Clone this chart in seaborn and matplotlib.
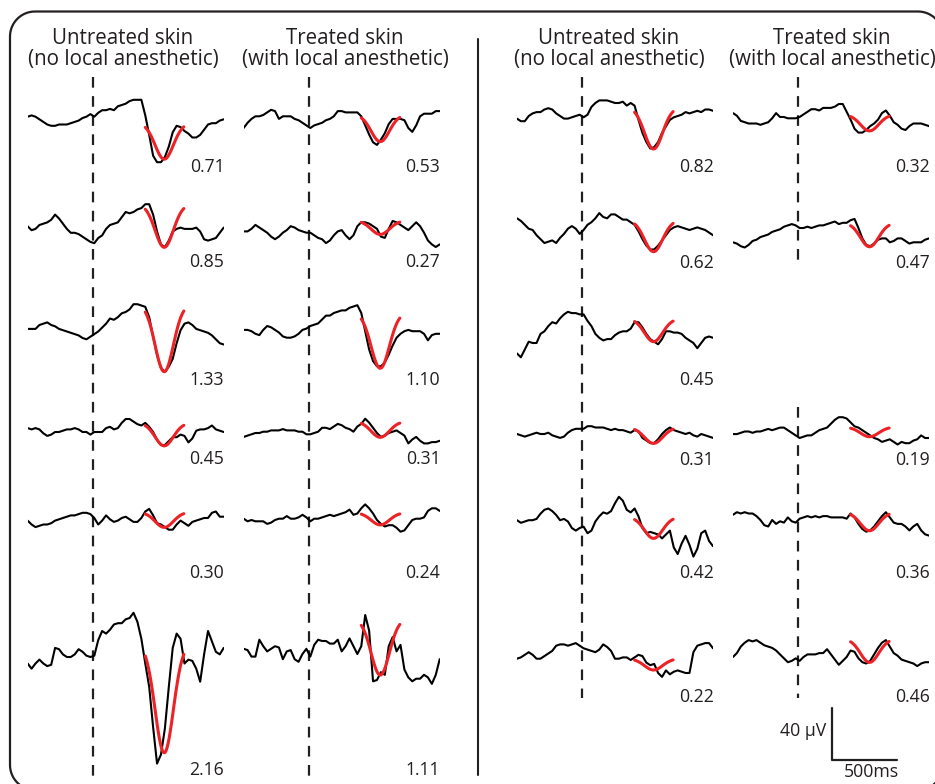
import numpy as np
import matplotlib
matplotlib.use("Agg")
import matplotlib.pyplot as plt
from matplotlib.patches import PathPatch
from matplotlib.path import Path
from matplotlib.transforms import IdentityTransform
import seaborn as sns

sns.set_style("white")
plt.rcParams["font.family"] = ["Open Sans", "DejaVu Sans"]

INK = "#231f20"
FIT_RED = "#ec2227"

# Epoch time base (ms relative to stimulus onset)
t_ms = np.arange(-500, 1001, 30)

# Grand-average ERP per subject (µV), untreated vs. anesthetised skin
s1_untreated = [0, 1, 0, -2, -4, -6, -7, -7, -6, -6, -6, -5, -4, -3, -1, 0, 2, 0, 3, 5, 5, 6, 5, 8, 9,
                10, 12, 13, 13, 13, 1, -14, -30, -35, -35, -31, -23, -12, -7, -8, -11, -13, -16, -16,
                -14, -10, -6, -5, -5, -3, -2]
s1_treated = [-1, 3, 6, 8, 8, 9, 11, 13, 12, 6, 8, 8, 8, 6, 5, 3, 1, -1, 1, 2, 3, 5, 6, 8, 12, 12,
              11, 11, 11, 11, 8, 1, -6, -12, -14, -10, -5, 2, 6, 6, 6, 5, -1, -4, 1, 8, 10, 10, 10,
              12, 12]
s2_untreated = [8, 5, 6, 9, 10, 11, 13, 17, 14, 10, 6, 3, 3, 2, 0, -2, -4, -5, -1, 1, 6, 9, 10, 11,
                15, 19, 18, 19, 21, 22, 25, 25, 17, 4, -6, -8, -3, 4, 6, 7, 6, 6, 6, 7, 4, -2, -3,
                -2, -1, 3, 7]
s2_treated = [1, 1, 3, 6, 4, 2, 0, -3, -5, -3, 0, 2, 5, 4, 2, 1, 0, 0, -2, -4, -5, -8, -6, -2, 1,
              2, -2, -5, -2, 5, 8, 8, 7, 5, 3, -3, -4, 3, 9, 8, 6, 4, 2, 5, 8, 5, 0, -6, -9, -11, -9]
s3_untreated = [6, 6, 6, 9, 10, 11, 9, 8, 6, 5, 4, 3, 2, 1, -1, -2, 0, 2, 4, 7, 10, 14, 13, 15, 18,
                19, 21, 25, 25, 24, 23, 15, 0, -14, -24, -27, -23, -17, -5, 5, 10, 11, 9, 6, 5, 4,
                3, 1, -2, -5, -6]
s3_treated = [-2, -2, -3, -5, -6, -2, 1, 0, -2, -4, -7, -8, -8, -7, -5, -2, -1, 1, 2, 3, 6, 9, 9,
              11, 12, 13, 13, 15, 16, 17, 11, -3, -17, -26, -30, -30, -27, -21, -14, -8, -5, -3,
              -2, -3, -3, -3, -5, -10, -6, -5, -5]
s4_untreated = [4, 3, 4, 3, 0, -2, -1, 1, 1, 2, 3, 3, 4, 3, 1, 1, -1, 1, 1, 1, 4, 5, 3, 4, 8, 11,
                11, 9, 7, 6, 8, 5, 1, -5, -9, -9, -6, -3, -3, -1, -2, -7, -4, 2, 3, 3, 4, 6, 3, 2, 1]
s4_treated = [-2, -1, 0, 1, 1, 2, 2, 3, 3, 3, 4, 3, 3, 3, 2, 2, 0, 0, 1, 2, 5, 5, 4, 6, 8, 7, 5, 4,
              2, 6, 8, 12, 9, 5, 1, -2, -1, 1, 2, 3, 1, -1, -7, -4, -2, -5, -7, -7, -6, -6, -5]
s5_untreated = [-3, -6, -8, -7, -6, -6, -5, -3, -2, -1, 0, 1, 1, 2, 3, 3, 2, -1, -6, -3, 1, -2, -4,
                -3, -1, 0, -2, -4, -4, -1, 4, 6, 1, -5, -6, -8, -10, -10, -6, -3, -5, -7, -4, -3,
                -2, -1, -1, 3, 4, 0, 0]
s5_treated = [1, -1, 0, -1, -1, -1, -3, -2, 0, 1, 1, 3, 1, 1, 2, 4, 2, -1, 1, 1, 2, 3, 4, 3, 4, 5,
              6, 8, 4, 5, 9, 12, 9, 5, 0, -3, -5, -4, -4, -6, -9, -8, -4, 0, 1, 1, 2, 7, 9, 9, 7]
s6_untreated = [-4, -8, -4, -1, -4, -6, -5, 8, 7, 3, 1, 1, 3, 7, 5, 2, 1, 2, 14, 21, 19, 22, 26,
                27, 27, 30, 31, 35, 28, 15, -4, -22, -53, -81, -74, -54, -22, 8, 19, 15, -4, -1,
                -2, -8, -18, 3, 21, 13, 5, 3, 8]
s6_treated = [3, 2, -3, -3, 10, 5, 1, 3, 5, 4, -5, 1, 2, -5, -7, -1, 3, -3, 6, 10, 9, 9, 7, 7, 10,
              1, 5, 11, 5, -1, 5, 29, 17, -22, -21, -15, -17, 5, 12, 1, 6, -13, -19, -22, -20, -20,
              -17, -19, -24, -17, -5]
s7_untreated = [-1, -3, -3, 1, 3, 4, 4, 6, 7, 6, 3, 1, -1, -1, 0, 1, 2, 0, 2, 8, 11, 13, 13, 13, 12,
                11, 11, 12, 9, 11, 9, -2, -12, -19, -24, -23, -19, -12, -7, -2, 0, 1, 2, 4, 3, 4,
                5, 4, 6, 6, 5]
s7_treated = [4, 2, -2, -3, -4, -4, -4, -5, -4, -3, 0, 4, 1, 1, 0, 0, 0, 1, 3, 5, 7, 7, 6, 8, 8, 8,
              9, 11, 11, 5, -1, -8, -11, -11, -9, -6, -4, -1, 4, 6, 2, -3, -5, -8, -9, -6, -4, -4,
              -4, -5, -6]
s8_untreated = [9, 7, 4, 1, 0, -4, -7, -10, -9, -8, -10, -6, -3, 1, 3, 1, -3, 0, 4, 6, 9, 13, 10, 9,
                12, 12, 10, 8, 8, 6, 4, -1, -7, -12, -15, -15, -12, -8, -4, 0, 2, 3, 2, 1, 0, 1,
                2, 1, 0, -2, -4]
s8_treated = [-12, -13, -15, -16, -14, -11, -10, -8, -7, -6, -4, -3, -2, 0, 1, 2, 1, -1, -1, 0, -1,
              0, 1, 1, 2, 3, 4, 2, 3, 3, 5, 6, -1, -9, -14, -15, -13, -10, -9, -9, -12, -11, -9,
              -9, -11, -13, -12, -12, -12, -10, -9]
s9_untreated = [-18, -21, -15, -9, -10, -10, -3, -1, 3, 6, 5, 9, 12, 14, 13, 13, 12, 12, 7, 3, -3,
                -6, -8, -7, -7, -4, -2, -1, -1, 1, 6, 6, 2, -3, -7, -9, -11, -7, -1, -1, -2, -2,
                -3, -6, -8, -10, -14, -10, -6, -5, -6]
s10_untreated = [-1, -2, -3, -2, -1, 0, -1, -1, 0, -2, -3, -4, -3, 0, 2, 3, 3, 3, 5, 5, 4, 4, 4, 3,
                 2, 3, 2, 2, 1, 0, 2, 1, -4, -6, -8, -8, -5, -1, 2, 4, 2, 1, 0, -1, 0, -2, -3, -1,
                 -2, -3, -4]
s10_treated = [2, 2, 3, 4, 4, 3, 4, 4, 5, 6, 5, 6, 7, 7, 5, 3, 1, -1, 0, 1, 1, 3, 5, 6, 7, 10, 13,
               15, 15, 14, 11, 8, 7, 5, 3, 1, -1, -2, -4, -3, -2, -4, -6, -4, -5, -5, -3, -2, 1,
               -1, -1]
s11_untreated = [5, 3, 4, 5, 5, 6, 10, 13, 14, 12, 9, 5, 6, 4, -1, -3, -1, 0, -5, -3, 4, 8, 11, 10,
                 12, 18, 23, 20, 13, 11, 14, 8, -1, -5, -4, -5, -6, -9, -6, -3, -16, -21, -13, -7,
                 -14, -23, -17, -5, -3, -11, -15]
s11_treated = [4, 6, 5, 6, 5, 5, 3, 0, -4, -5, 0, -3, -1, -2, 2, -1, -2, 1, 2, 3, 2, 3, 2, 3, 3, 2,
               2, 2, 2, 1, 5, 2, -3, -7, -9, -8, -5, -1, 3, 6, 2, -2, -3, -3, -5, -8, -5, -3, -8,
               -11, -12]
s12_untreated = [-8, -7, -5, -3, -5, -8, -8, -6, -4, -2, 2, 3, 3, 2, 3, 4, 2, 0, -1, -2, -3, -1, 3,
                 1, -2, -8, -8, -7, -7, -9, -7, -5, -6, -11, -13, -12, -19, -22, -17, -20, -18,
                 -17, -18, -19, -19, -3, 2, 3, 4, 4, 0]
s12_treated = [1, 4, 9, 12, 14, 13, 14, 12, 10, 9, 8, 6, 3, 0, -3, -2, 0, -2, 1, 3, 3, 3, 4, 4, 7,
               3, -1, -5, -2, 1, 6, 5, 0, -3, -4, -2, 3, 8, 12, 14, 9, 4, 2, -1, -2, -3, -4, -6,
               -4, -3, -3]

untreated = [s1_untreated, s2_untreated, s3_untreated, s4_untreated, s5_untreated, s6_untreated,
             s7_untreated, s8_untreated, s9_untreated, s10_untreated, s11_untreated, s12_untreated]
treated = [s1_treated, s2_treated, s3_treated, s4_treated, s5_treated, s6_treated,
           s7_treated, s8_treated, None, s10_treated, s11_treated, s12_treated]

# Fitted N2 amplitude (printed under each trace) and the level the fit returns to (µV)
amp_untreated = [0.71, 0.85, 1.33, 0.45, 0.30, 2.16, 0.82, 0.62, 0.45, 0.31, 0.42, 0.22]
amp_treated = [0.53, 0.27, 1.10, 0.31, 0.24, 1.11, 0.32, 0.47, None, 0.19, 0.36, 0.46]
fit_base_untreated = [-5, 25, 25, 7.9, 3.5, 11.6, 7.6, 7.5, 8.6, 3.9, 7.4, -8.1]
fit_base_treated = [9.2, 9.2, 11.4, 9.8, 5.6, 26.1, 2.8, 2.9, None, 7.4, 5.8, 14.8]

# Gaussian template of the fit
FIT_CENTER_MS = 545
FIT_SIGMA_MS = 70
FIT_WINDOW_MS = (400, 695)
UV_PER_UNIT = 39

# ---- page layout (pixels) ----
W, H = 935, 784
PX_PER_MS = 0.1307
PX_PER_UV = 1.3
Y_TOP_UV, Y_BOT_UV = 45, -95
COL_ONSET_PX = [93, 309, 582.3, 798.3]
COL_TITLE_X_PX = [123, 345, 609, 832]
BASE_UNTREATED_PX = [116.7, 236.7, 336.7, 433.3, 516.7, 658.3,
                     117.3, 230, 330, 432.7, 526.7, 648.3]
BASE_TREATED_PX = [126.7, 232.7, 327.3, 434.3, 520, 652.7,
                   118.3, 226.7, None, 436.7, 520, 658.3]
LABEL_Y_PX = [167, 262, 380, 459, 573, 770, 167, 263, 380, 460, 573, 697]
DASH_SPANS_PX = [[(77, 784)], [(77, 784)], [(77, 698)], [(77, 268), (407, 698)]]
FRAME_PX = (10, 11.5, 943, 790)   # left, top, right, bottom
FRAME_RADIUS_PX = 25

fig = plt.figure(figsize=(W / 100, H / 100), dpi=100)


def px_axes(left, top, width, height):
    ax = fig.add_axes([left / W, 1 - (top + height) / H, width / W, height / H])
    ax.patch.set_alpha(0)
    ax.axis("off")
    return ax


def rounded_frame(left, top, right, bottom, r):
    """Closed rounded-rectangle path in display pixels (origin bottom-left)."""
    y_t, y_b = H - top, H - bottom
    verts, codes = [], []

    def arc(cx, cy, a0, a1):
        a = np.radians(np.linspace(a0, a1, 16))
        return list(zip(cx + r * np.cos(a), cy + r * np.sin(a)))

    pts = (arc(left + r, y_t - r, 90, 180) + arc(left + r, y_b + r, 180, 270)
           + arc(right - r, y_b + r, 270, 360) + arc(right - r, y_t - r, 0, 90))
    pts.append(pts[0])
    codes = [Path.MOVETO] + [Path.LINETO] * (len(pts) - 1)
    return Path(pts, codes)


# outer rounded frame and panel divider
fig.add_artist(PathPatch(rounded_frame(*FRAME_PX, FRAME_RADIUS_PX), transform=IdentityTransform(),
                         fill=False, lw=1.6, ec=INK))
frame = px_axes(0, 0, W, H)
frame.set_xlim(0, W)
frame.set_ylim(H, 0)
frame.plot([477.5, 477.5], [39, 775], color=INK, lw=1.5)

# stimulus-onset markers
for col, spans in enumerate(DASH_SPANS_PX):
    left = COL_ONSET_PX[col] - 500 * PX_PER_MS
    axc = px_axes(left, 0, 1500 * PX_PER_MS, H)
    axc.set_xlim(-500, 1000)
    for y0, y1 in spans:
        axc.plot([0, 0], [1 - y0 / H, 1 - y1 / H], transform=axc.get_xaxis_transform(),
                 color=INK, lw=1.6, ls=(0, (4.8, 3.8)), clip_on=False)

# column headings
heads = [("Untreated skin", "(no local anesthetic)"), ("Treated skin", "(with local anesthetic)")]
for col, xc in enumerate(COL_TITLE_X_PX):
    l1, l2 = heads[col % 2]
    fig.text(xc / W, 1 - 38 / H, l1, ha="center", va="center", fontsize=14.8, color=INK)
    fig.text(xc / W, 1 - 60 / H, l2, ha="center", va="center", fontsize=14.8, color=INK)


def draw_cell(col, base_px, trace, amp, fit_base, label_px):
    left = COL_ONSET_PX[col] - 500 * PX_PER_MS
    top = base_px - Y_TOP_UV * PX_PER_UV
    ax = px_axes(left, top, 1500 * PX_PER_MS, (Y_TOP_UV - Y_BOT_UV) * PX_PER_UV)
    ax.set_xlim(-500, 1000)
    ax.set_ylim(Y_BOT_UV, Y_TOP_UV)
    sns.lineplot(x=t_ms, y=trace, ax=ax, color="black", linewidth=1.5)
    tf = np.linspace(FIT_WINDOW_MS[0], FIT_WINDOW_MS[1], 80)
    fit = fit_base - amp * UV_PER_UNIT * np.exp(-(tf - FIT_CENTER_MS) ** 2 / (2 * FIT_SIGMA_MS ** 2))
    sns.lineplot(x=tf, y=fit, ax=ax, color=FIT_RED, linewidth=2.2, zorder=3)
    ax.text(1005, (base_px - label_px) / PX_PER_UV, f"{amp:.2f}", ha="right", va="center",
            fontsize=12.7, color=INK)
    return ax


last_ax = None
for i in range(12):
    panel = i // 6
    draw_cell(2 * panel, BASE_UNTREATED_PX[i], untreated[i], amp_untreated[i],
              fit_base_untreated[i], LABEL_Y_PX[i])
    if treated[i] is not None:
        last_ax = draw_cell(2 * panel + 1, BASE_TREATED_PX[i], treated[i], amp_treated[i],
                            fit_base_treated[i], LABEL_Y_PX[i])

# scale bar: 40 µV / 500 ms
sb_t, sb_v = 258, -78
last_ax.plot([sb_t, sb_t, sb_t + 500], [sb_v + 40, sb_v, sb_v], color=INK, lw=1.6, clip_on=False)
last_ax.text(sb_t - 45, sb_v + 22, "40 µV", ha="right", va="center", fontsize=12.7, color=INK)
last_ax.text(sb_t + 300, sb_v - 9.5, "500ms", ha="center", va="center", fontsize=12.7, color=INK)

fig.savefig("out.png", dpi=100)
